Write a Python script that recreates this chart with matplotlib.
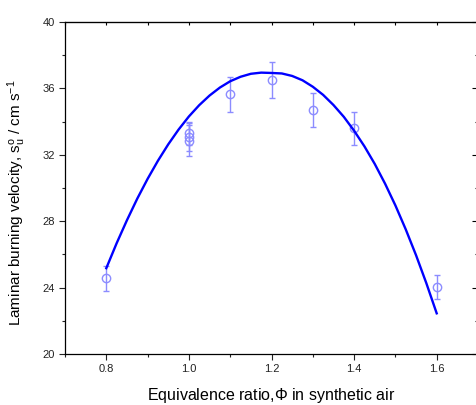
import matplotlib
matplotlib.use('Agg')
import matplotlib.pyplot as plt
from matplotlib.ticker import MultipleLocator

# measured burning velocities (phi, value, error)
phi = [0.8, 1.0, 1.0, 1.0, 1.1, 1.2, 1.3, 1.4, 1.6]
su = [24.55, 33.3, 33.05, 32.85, 35.65, 36.5, 34.7, 33.6, 24.05]
su_err = [0.75, 0.7, 0.85, 0.95, 1.05, 1.08, 1.05, 1.0, 0.73]

# fitted curve
fit_phi = [0.800, 0.825, 0.850, 0.875, 0.900, 0.925, 0.950, 0.975,
           1.000, 1.025, 1.050, 1.075, 1.100, 1.125, 1.150, 1.175,
           1.200, 1.225, 1.250, 1.275, 1.300, 1.325, 1.350, 1.375,
           1.400, 1.425, 1.450, 1.475, 1.500, 1.525, 1.550, 1.575, 1.600]
fit_su = [25.17, 26.67, 28.06, 29.36, 30.55, 31.64, 32.63, 33.52,
          34.31, 34.99, 35.57, 36.05, 36.43, 36.70, 36.88, 36.95,
          36.93, 36.90, 36.75, 36.49, 36.10, 35.61, 35.00, 34.29,
          33.45, 32.51, 31.45, 30.26, 28.95, 27.51, 25.95, 24.26, 22.45]

plt.rcParams['font.family'] = ['Liberation Sans', 'DejaVu Sans']
plt.rcParams['mathtext.fontset'] = 'custom'
plt.rcParams['mathtext.rm'] = 'Liberation Sans'
plt.rcParams['mathtext.it'] = 'Liberation Sans'

fig = plt.figure(figsize=(4.76, 4.05), dpi=100)
ax = fig.add_axes([65/476, 51/405, 413/476, 332/405])

ax.plot(fit_phi, fit_su, color='#0000ff', lw=1.7, zorder=3)
ax.errorbar(phi, su, yerr=su_err, fmt='o', mfc='none', mec='#8c8cff',
            ecolor='#8c8cff', ms=6, mew=1.0, elinewidth=1.0, capsize=2.5,
            capthick=1.0, zorder=2)

ax.set_xlim(0.7, 1.7)
ax.set_ylim(20, 40)
ax.set_xticks([0.8, 1.0, 1.2, 1.4, 1.6])
ax.set_xticklabels(['0.8', '1.0', '1.2', '1.4', '1.6'])
ax.xaxis.set_minor_locator(MultipleLocator(0.1))
ax.yaxis.set_major_locator(MultipleLocator(4))
ax.yaxis.set_minor_locator(MultipleLocator(2))

ax.tick_params(which='both', labelsize=8, colors='#222222', width=0.8)
ax.tick_params(which='major', length=4)
ax.tick_params(which='minor', length=2.5)
ax.tick_params(axis='x', which='both', direction='out', top=False)
ax.tick_params(axis='y', which='both', direction='out', right=False)

# ticks on top and right pointing inward
top = ax.secondary_xaxis('top')
top.set_xticks([0.8, 1.0, 1.2, 1.4, 1.6])
top.xaxis.set_minor_locator(MultipleLocator(0.1))
top.tick_params(which='both', direction='in', labeltop=False, length=2.5, width=0.8)
right = ax.secondary_yaxis('right')
right.yaxis.set_major_locator(MultipleLocator(4))
right.yaxis.set_minor_locator(MultipleLocator(2))
right.tick_params(which='major', direction='in', labelright=False, length=4, width=0.8)
right.tick_params(which='minor', direction='in', labelright=False, length=2, width=0.8)

for s in ax.spines.values():
    s.set_linewidth(0.9)

ax.set_xlabel('Equivalence ratio,$\\Phi$ in synthetic air', fontsize=11.5)
ax.set_ylabel('Laminar burning velocity, s$_u^o$ / cm s$^{-1}$', fontsize=11)
ax.xaxis.set_label_coords(0.5, -0.097)
ax.yaxis.set_label_coords(-0.09, 0.455)

fig.savefig('out.png', dpi=100)
